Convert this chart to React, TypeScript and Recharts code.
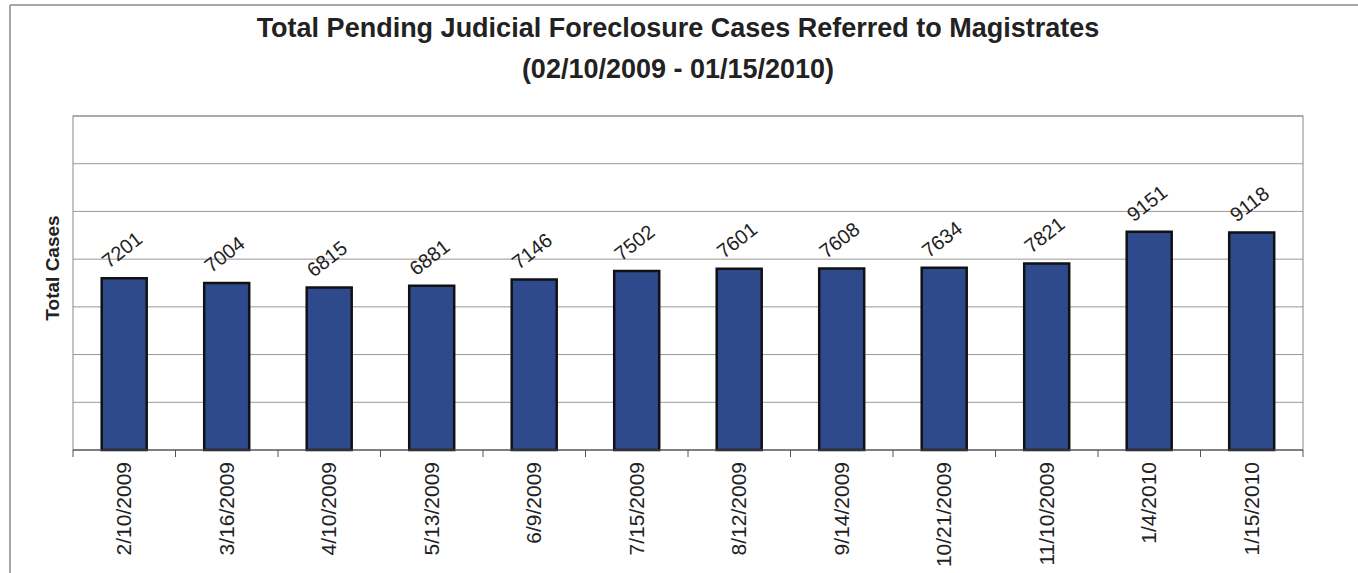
import React from 'react';
import { BarChart, Bar, XAxis, YAxis, CartesianGrid, LabelList } from 'recharts';

const dates = [
  '2/10/2009', '3/16/2009', '4/10/2009', '5/13/2009', '6/9/2009', '7/15/2009',
  '8/12/2009', '9/14/2009', '10/21/2009', '11/10/2009', '1/4/2010', '1/15/2010',
];
const totals = [7201, 7004, 6815, 6881, 7146, 7502, 7601, 7608, 7634, 7821, 9151, 9118];
const yTicks = [0, 2000, 4000, 6000, 8000, 10000, 12000, 14000];

const data = dates.map((d, i) => ({ date: d, total: totals[i] }));

const W = 1358;
const H = 573;
const M = { top: 116, right: 55, left: 73, bottom: 0 };
const plotW = W - M.left - M.right;
const band = plotW / dates.length;
const FONT = '"Liberation Sans", Arial, sans-serif';

const DateTick = (props: any) => {
  const { x, y, payload, index } = props;
  const half = band / 2;
  return (
    <g>
      <line x1={x - half} y1={y - 8} x2={x - half} y2={y - 1} stroke="#555" />
      {index === dates.length - 1 && (
        <line x1={x + half} y1={y - 8} x2={x + half} y2={y - 1} stroke="#555" />
      )}
      <text
        x={0}
        y={0}
        transform={`translate(${x + 7},${y + 4}) rotate(-90)`}
        textAnchor="end"
        fontSize={21}
        fontFamily={FONT}
        fill="#222"
      >
        {payload.value}
      </text>
    </g>
  );
};

const ValueLabel = (props: any) => {
  const { x, y, width, value } = props;
  const cx = x + width / 2 + 2;
  const cy = y - 23;
  return (
    <text
      x={0}
      y={0}
      transform={`translate(${cx},${cy}) rotate(-38)`}
      textAnchor="middle"
      fontSize={20}
      fontFamily={FONT}
      fill="#222"
    >
      {value}
    </text>
  );
};

export default function App() {
  return (
    <div style={{ position: 'absolute', left: 0, top: 0, width: W, height: H, background: '#fff' }}>
      <svg style={{ position: 'absolute', left: 0, top: 0 }} width={W} height={H}>
        <line x1={10} y1={5} x2={W} y2={5} stroke="#888" strokeWidth={1.5} />
        <line x1={10} y1={5} x2={10} y2={H} stroke="#888" strokeWidth={1.5} />
        <text x={678} y={37} textAnchor="middle" fontSize={27} fontWeight="bold" fontFamily={FONT} fill="#222">
          Total Pending Judicial Foreclosure Cases Referred to Magistrates
        </text>
        <text x={678} y={78} textAnchor="middle" fontSize={27} fontWeight="bold" fontFamily={FONT} fill="#222">
          (02/10/2009 - 01/15/2010)
        </text>
        <text
          x={0}
          y={0}
          transform="translate(59,268) rotate(-90)"
          textAnchor="middle"
          fontSize={19}
          fontWeight="bold"
          fontFamily={FONT}
          fill="#222"
        >
          Total Cases
        </text>
      </svg>
      <div style={{ position: 'absolute', left: 0, top: 0 }}>
        <BarChart width={W} height={H} data={data} margin={M} barCategoryGap="28%">
          <CartesianGrid vertical={false} stroke="#999" />
          <rect x={M.left} y={M.top} width={plotW} height={H - M.top - 123} fill="none" stroke="#888" />
          <XAxis
            dataKey="date"
            height={123}
            interval={0}
            tickLine={false}
            axisLine={{ stroke: '#555' }}
            tick={<DateTick />}
          />
          <YAxis hide domain={[0, 14000]} ticks={yTicks} />
          <Bar dataKey="total" fill="#2f4a8c" stroke="#111" strokeWidth={2.5} isAnimationActive={false}>
            <LabelList dataKey="total" content={<ValueLabel />} />
          </Bar>
        </BarChart>
      </div>
    </div>
  );
}
